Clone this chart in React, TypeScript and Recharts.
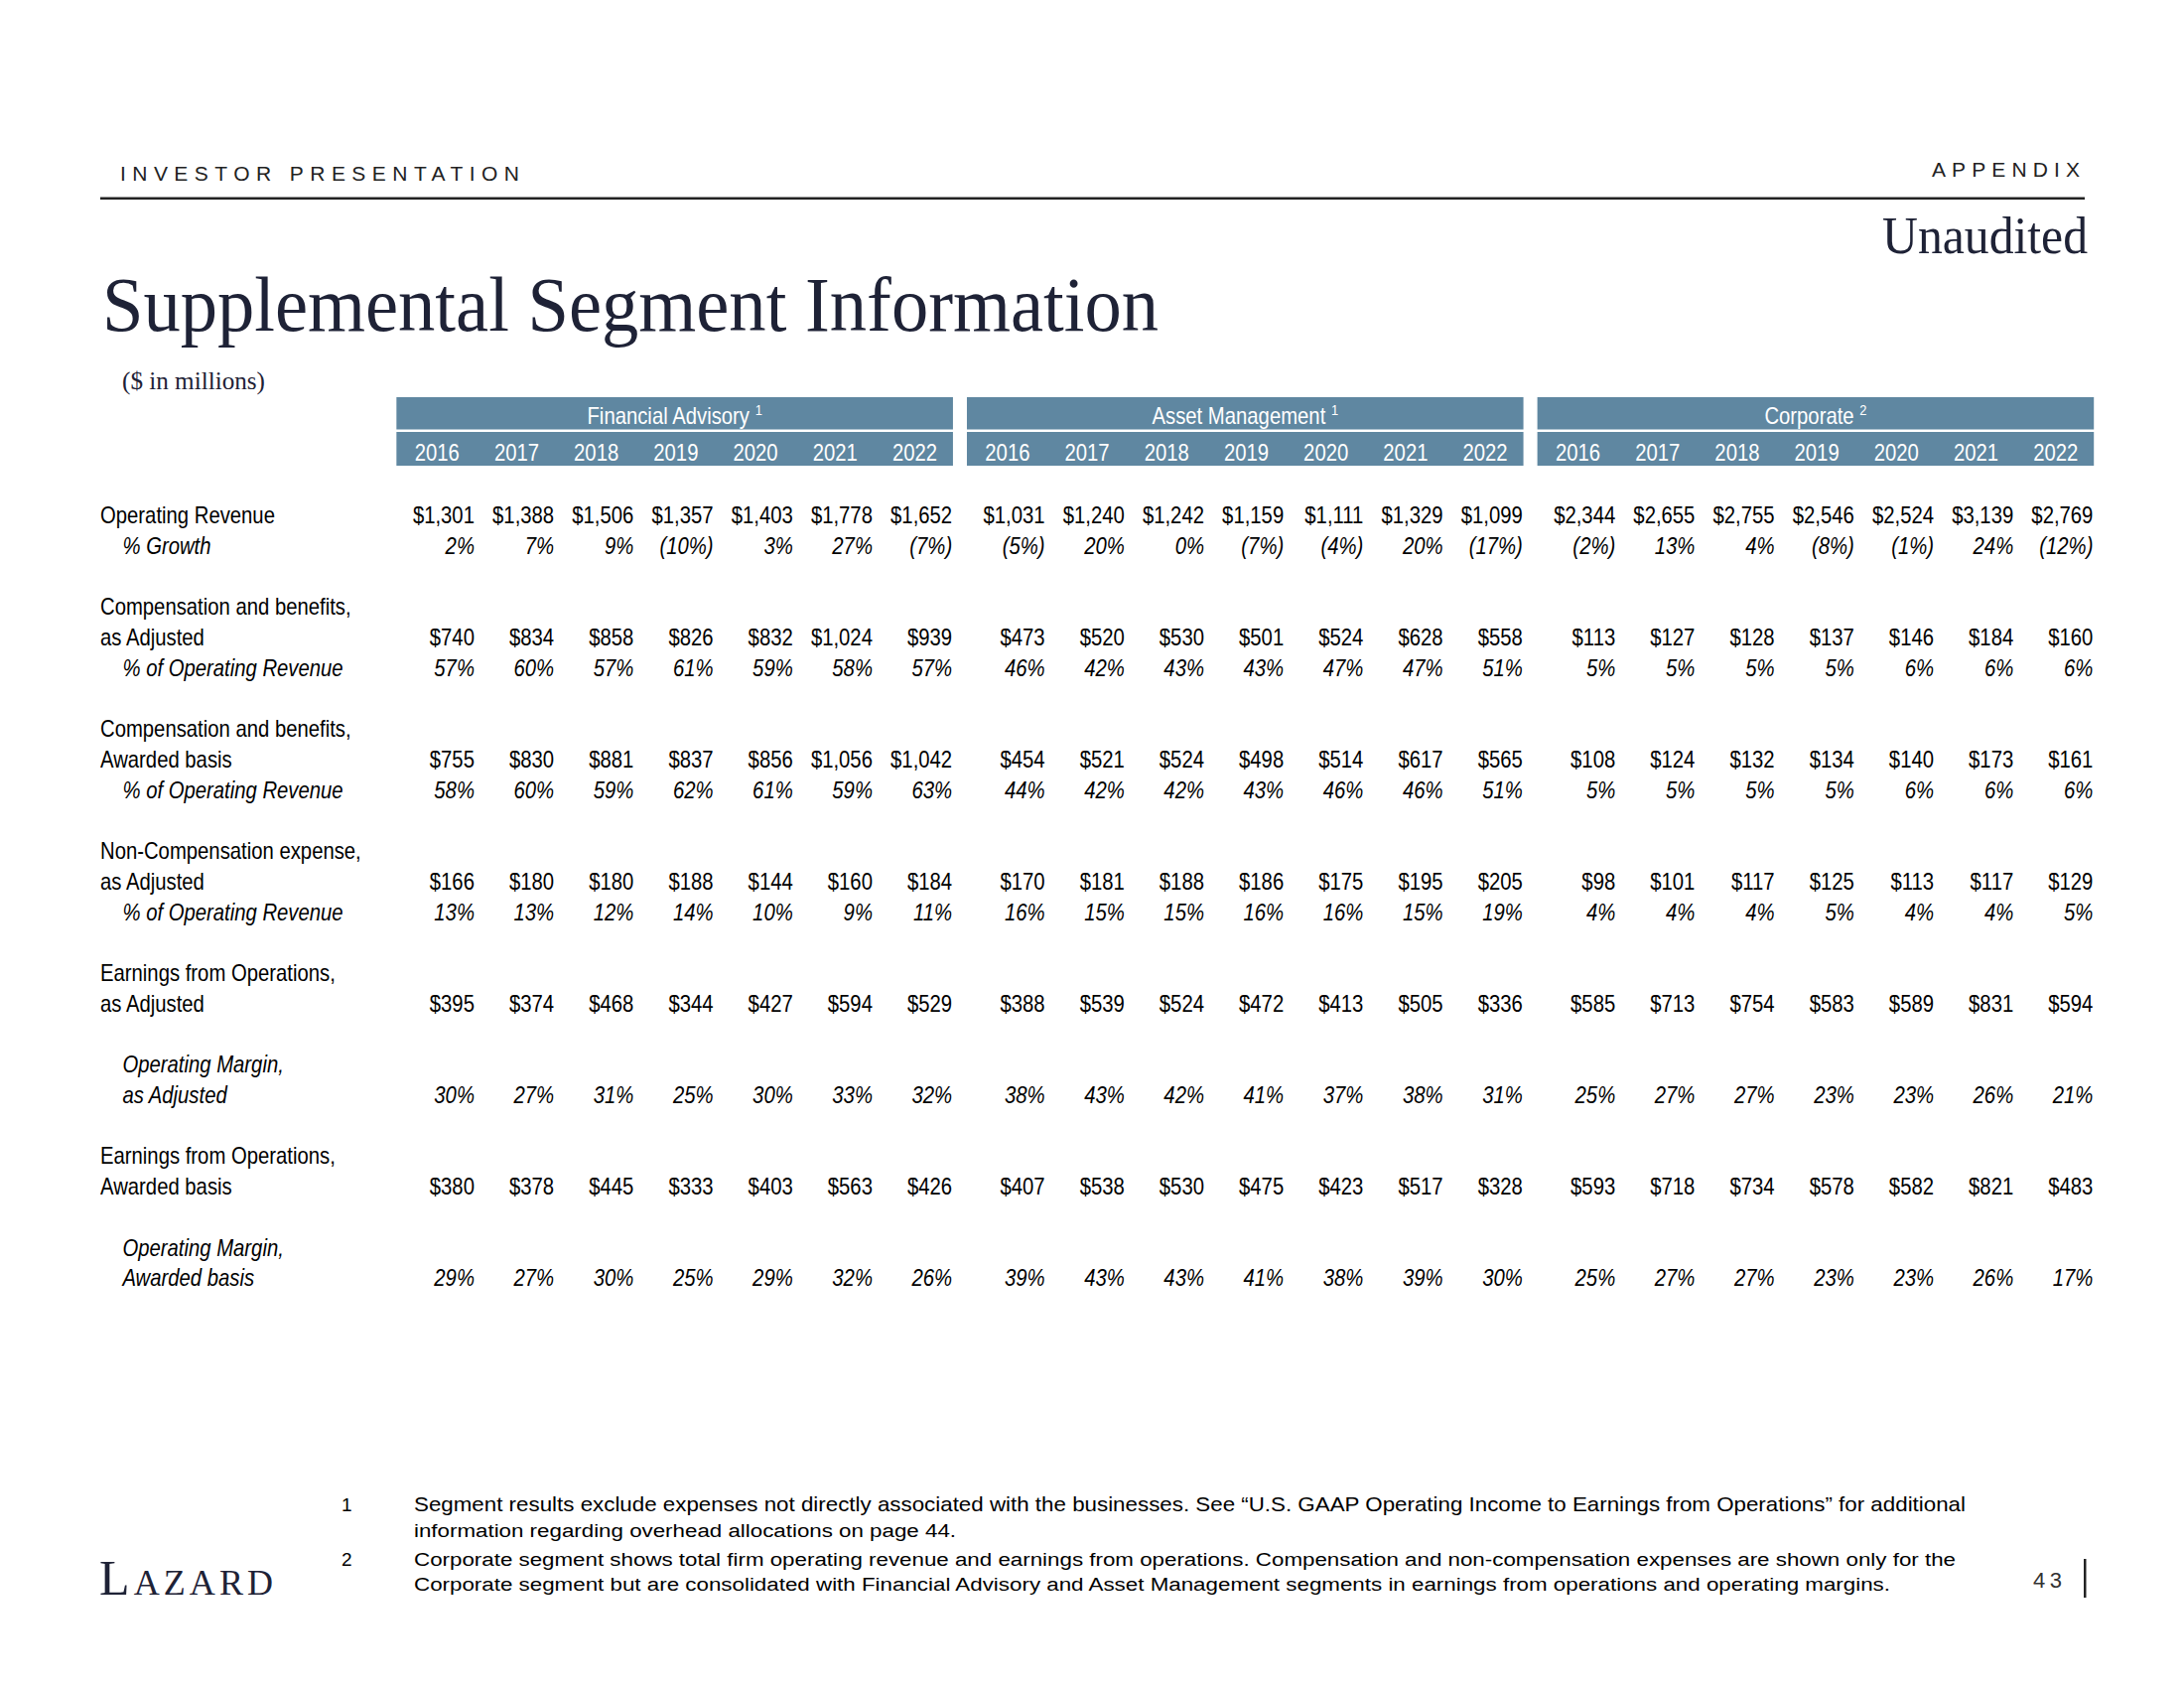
import React from "react";
import { ScatterChart, Scatter, XAxis, YAxis, ReferenceArea } from "recharts";

// ---- data ----
const years = ["2016", "2017", "2018", "2019", "2020", "2021", "2022"];
const segments = ["Financial Advisory", "Asset Management", "Corporate"];
const segmentNotes = ["1", "1", "2"];

// each series: Financial Advisory 2016-22, Asset Management 2016-22, Corporate 2016-22
const operatingRevenue = [1301, 1388, 1506, 1357, 1403, 1778, 1652, 1031, 1240, 1242, 1159, 1111, 1329, 1099, 2344, 2655, 2755, 2546, 2524, 3139, 2769];
const revenueGrowth = [2, 7, 9, -10, 3, 27, -7, -5, 20, 0, -7, -4, 20, -17, -2, 13, 4, -8, -1, 24, -12];
const compAdjusted = [740, 834, 858, 826, 832, 1024, 939, 473, 520, 530, 501, 524, 628, 558, 113, 127, 128, 137, 146, 184, 160];
const compAdjustedPct = [57, 60, 57, 61, 59, 58, 57, 46, 42, 43, 43, 47, 47, 51, 5, 5, 5, 5, 6, 6, 6];
const compAwarded = [755, 830, 881, 837, 856, 1056, 1042, 454, 521, 524, 498, 514, 617, 565, 108, 124, 132, 134, 140, 173, 161];
const compAwardedPct = [58, 60, 59, 62, 61, 59, 63, 44, 42, 42, 43, 46, 46, 51, 5, 5, 5, 5, 6, 6, 6];
const nonComp = [166, 180, 180, 188, 144, 160, 184, 170, 181, 188, 186, 175, 195, 205, 98, 101, 117, 125, 113, 117, 129];
const nonCompPct = [13, 13, 12, 14, 10, 9, 11, 16, 15, 15, 16, 16, 15, 19, 4, 4, 4, 5, 4, 4, 5];
const earningsAdjusted = [395, 374, 468, 344, 427, 594, 529, 388, 539, 524, 472, 413, 505, 336, 585, 713, 754, 583, 589, 831, 594];
const marginAdjusted = [30, 27, 31, 25, 30, 33, 32, 38, 43, 42, 41, 37, 38, 31, 25, 27, 27, 23, 23, 26, 21];
const earningsAwarded = [380, 378, 445, 333, 403, 563, 426, 407, 538, 530, 475, 423, 517, 328, 593, 718, 734, 578, 582, 821, 483];
const marginAwarded = [29, 27, 30, 25, 29, 32, 26, 39, 43, 43, 41, 38, 39, 30, 25, 27, 27, 23, 23, 26, 17];

const rowLabels = [
  "Operating Revenue", "% Growth",
  "Compensation and benefits,", "as Adjusted", "% of Operating Revenue",
  "Compensation and benefits,", "Awarded basis", "% of Operating Revenue",
  "Non-Compensation expense,", "as Adjusted", "% of Operating Revenue",
  "Earnings from Operations,", "as Adjusted",
  "Operating Margin,", "as Adjusted",
  "Earnings from Operations,", "Awarded basis",
  "Operating Margin,", "Awarded basis",
];

const footnotes = [
  "Segment results exclude expenses not directly associated with the businesses. See \u201cU.S. GAAP Operating Income to Earnings from Operations\u201d for additional",
  "information regarding overhead allocations on page 44.",
  "Corporate segment shows total firm operating revenue and earnings from operations. Compensation and non-compensation expenses are shown only for the",
  "Corporate segment but are consolidated with Financial Advisory and Asset Management segments in earnings from operations and operating margins.",
];

// ---- layout ----
const SANS = "'Liberation Sans', Arial, sans-serif";
const SERIF = "'Liberation Serif', 'Times New Roman', serif";
const NAVY = "#1e2236";
const BAR = "#5f87a1";
const GROUP_STEP = 7.165; // column units between segment blocks
const NARROW = 0.86; // horizontal squeeze to mimic Arial Narrow

const money = (n: number) => `$${n.toLocaleString("en-US")}`;
const pct = (n: number) => (n < 0 ? `(${-n}%)` : `${n}%`);

// row slot of each label line, and whether it is indented / italic
const labelRows = [0, 1, 3, 4, 5, 7, 8, 9, 11, 12, 13, 15, 16, 18, 19, 21, 22, 24, 25];
const labelSub = [false, true, false, false, true, false, false, true, false, false, true, false, false, true, true, false, false, true, true];

const valueRows = [
  { values: operatingRevenue, fmt: money, row: 0, italic: false },
  { values: revenueGrowth, fmt: pct, row: 1, italic: true },
  { values: compAdjusted, fmt: money, row: 4, italic: false },
  { values: compAdjustedPct, fmt: pct, row: 5, italic: true },
  { values: compAwarded, fmt: money, row: 8, italic: false },
  { values: compAwardedPct, fmt: pct, row: 9, italic: true },
  { values: nonComp, fmt: money, row: 12, italic: false },
  { values: nonCompPct, fmt: pct, row: 13, italic: true },
  { values: earningsAdjusted, fmt: money, row: 16, italic: false },
  { values: marginAdjusted, fmt: pct, row: 19, italic: true },
  { values: earningsAwarded, fmt: money, row: 22, italic: false },
  { values: marginAwarded, fmt: pct, row: 25, italic: true },
];

const colX = (i: number) => Math.floor(i / 7) * GROUP_STEP + (i % 7);

const cellPoints = valueRows.flatMap((r) =>
  r.values.map((v, i) => ({ x: colX(i), y: r.row, label: r.fmt(v), italic: r.italic }))
);

const labelPoints = rowLabels.map((text, i) => ({
  x: labelSub[i] ? -4.42 : -4.7,
  y: labelRows[i],
  label: text,
  italic: labelSub[i],
}));

const yearPoints = segments.flatMap((_, g) =>
  years.map((yr, i) => ({ x: g * GROUP_STEP + i - 0.47, y: -2.05, label: yr }))
);

const titlePoints = segments.map((s, g) => ({
  x: g * GROUP_STEP + 2.515,
  y: -3.26,
  label: s,
  note: segmentNotes[g],
}));

function tableText(anchor: "start" | "middle" | "end", fill: string) {
  return (props: any) => {
    const { cx, cy, payload } = props;
    return (
      <text transform={`translate(${cx} ${cy}) scale(${NARROW} 1)`} dy="0.35em" textAnchor={anchor}
        fontFamily={SANS} fontSize={23.6} fontStyle={payload.italic ? "italic" : "normal"} fill={fill}>
        {payload.label}
        {payload.note ? (
          <>
            {" "}
            <tspan fontSize={15} dy={-9}>{payload.note}</tspan>
          </>
        ) : null}
      </text>
    );
  };
}

const CellText = tableText("end", "#000");
const LabelText = tableText("start", "#000");
const HeaderText = tableText("middle", "#fff");

function Slide() {
  return (
    <svg width={2200} height={1700} style={{ position: "absolute", left: 0, top: 0 }}>
      <rect width={2200} height={1700} fill="#fff" />
      <text x={121} y={182} fontFamily={SANS} fontSize={21} fill="#222" textLength={402} lengthAdjust="spacing">
        INVESTOR PRESENTATION
      </text>
      <text x={1946} y={178} fontFamily={SANS} fontSize={21} fill="#222" textLength={149} lengthAdjust="spacing">
        APPENDIX
      </text>
      <rect x={101} y={198.5} width={1999} height={2.5} fill="#222" />
      <text x={1896} y={255} fontFamily={SERIF} fontSize={52} fill={NAVY} textLength={207} lengthAdjust="spacingAndGlyphs">
        Unaudited
      </text>
      <text x={103} y={333} fontFamily={SERIF} fontSize={78} fill={NAVY} textLength={1064} lengthAdjust="spacingAndGlyphs">
        Supplemental Segment Information
      </text>
      <text x={123} y={392} fontFamily={SERIF} fontSize={26} fill={NAVY} textLength={144} lengthAdjust="spacingAndGlyphs">
        ($ in millions)
      </text>

      <text x={344} y={1522} fontFamily={SANS} fontSize={19} fill="#000">1</text>
      <text x={344} y={1577} fontFamily={SANS} fontSize={19} fill="#000">2</text>
      {footnotes.map((f, i) => (
        <text key={i} x={417} y={[1522, 1548, 1577, 1602][i]} fontFamily={SANS} fontSize={i === 0 ? 21 : 18}
          fill="#000" textLength={[1563, 546, 1553, 1487][i]} lengthAdjust="spacingAndGlyphs">
          {f}
        </text>
      ))}

      <text x={100} y={1606} fontFamily={SERIF} fill={NAVY} textLength={175} lengthAdjust="spacing">
        <tspan fontSize={50}>L</tspan>
        <tspan fontSize={36}>AZARD</tspan>
      </text>
      <text x={2048} y={1599} fontFamily={SANS} fontSize={22} fill="#333" textLength={29} lengthAdjust="spacing">
        43
      </text>
      <rect x={2099} y={1570} width={2.5} height={39} fill="#222" />
    </svg>
  );
}

export default function App() {
  return (
    <div style={{ position: "absolute", left: 0, top: 0, width: 2200, height: 1700, background: "#fff" }}>
      <Slide />
      <div style={{ position: "absolute", left: 0, top: 0 }}>
        <ScatterChart width={2200} height={1700} margin={{ top: 396.1, right: 77.96, bottom: 382.3, left: 101 }}>
          <XAxis type="number" dataKey="x" domain={[-4.7, 20.5]} hide allowDataOverflow />
          <YAxis type="number" dataKey="y" domain={[-4, 26]} reversed hide allowDataOverflow />
          {segments.map((s, g) => (
            <ReferenceArea key={s + "top"} x1={g * GROUP_STEP - 0.98} x2={g * GROUP_STEP + 6.01}
              y1={-3.874} y2={-2.816} fill={BAR} fillOpacity={1} stroke="none" ifOverflow="visible" />
          ))}
          {segments.map((s, g) => (
            <ReferenceArea key={s + "bottom"} x1={g * GROUP_STEP - 0.98} x2={g * GROUP_STEP + 6.01}
              y1={-2.734} y2={-1.628} fill={BAR} fillOpacity={1} stroke="none" ifOverflow="visible" />
          ))}
          <Scatter data={titlePoints} shape={HeaderText} isAnimationActive={false} />
          <Scatter data={yearPoints} shape={HeaderText} isAnimationActive={false} />
          <Scatter data={labelPoints} shape={LabelText} isAnimationActive={false} />
          <Scatter data={cellPoints} shape={CellText} isAnimationActive={false} />
        </ScatterChart>
      </div>
    </div>
  );
}
